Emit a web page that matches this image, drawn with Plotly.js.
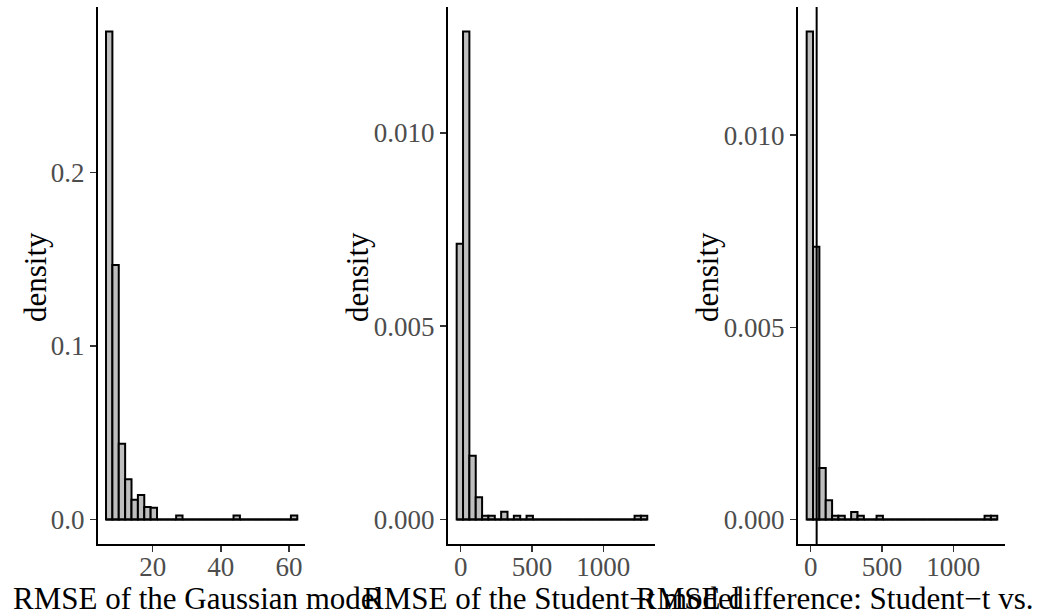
<!DOCTYPE html>
<html>
<head>
<meta charset="utf-8">
<script src="https://cdn.plot.ly/plotly-3.0.1.min.js"></script>
<style>html,body{margin:0;padding:0;background:#fff;}#chart{width:1042px;height:615px;}</style>
</head>
<body>
<div id="chart"></div>
<script>
// ---- Data ----
// Panel 1: RMSE of the Gaussian model (30 bins)
var gaussBinStart = 6.31;
var gaussBinWidth = 1.871;
var gaussDensity = [0.2811, 0.1466, 0.0436, 0.0232, 0.0114, 0.0141, 0.0072, 0.0068,
  0, 0, 0, 0.0023, 0, 0, 0, 0, 0, 0, 0, 0, 0.0023, 0, 0, 0, 0, 0, 0, 0, 0, 0.0023];

// Panel 2: RMSE of the Student-t model (30 bins)
var studBinStart = -28;
var studBinWidth = 44.53;
var studDensity = [0.00713, 0.01262, 0.00165, 0.00058, 0.0001, 0.0001, 0, 0.0002, 0, 0.0001,
  0, 0.0001, 0, 0, 0, 0, 0, 0, 0, 0, 0, 0, 0, 0, 0, 0, 0, 0, 0.0001, 0.0001];

// Panel 3: RMSE difference: Student-t vs. Gaussian (30 bins)
var diffBinStart = -28;
var diffBinWidth = 44.53;
var diffDensity = [0.0127, 0.0071, 0.00134, 0.0005, 0.0001, 0.0001, 0, 0.0002, 0.0001, 0,
  0, 0.0001, 0, 0, 0, 0, 0, 0, 0, 0, 0, 0, 0, 0, 0, 0, 0, 0, 0.0001, 0.0001];
var diffVline = 42;

var xTitles = ["RMSE of the Gaussian model", "RMSE of the Student\u2212t model", "RMSE difference: Student\u2212t vs. Gaussian"];
var yTitle = "density";

var gaussTicks = [20, 40, 60];
var studTicks = [0, 500, 1000];
var yTicks1 = [0, 0.1, 0.2], yTickText1 = ["0.0", "0.1", "0.2"];
var yTicks2 = [0, 0.005, 0.010], yTickText2 = ["0.000", "0.005", "0.010"];

// ---- Build ----
var W = 1042, H = 615;
var FONT = "Liberation Serif, Times New Roman, serif";
function px(x) { return x / W; }
function py(y) { return 1 - y / H; }

function histTraces(start, width, dens, xa, ya) {
  var centers = [], widths = [];
  for (var i = 0; i < dens.length; i++) { centers.push(start + width * (i + 0.5)); widths.push(width); }
  var end = start + width * dens.length;
  return [
    { type: "scatter", mode: "lines", x: [start, end], y: [0, 0], xaxis: xa, yaxis: ya,
      line: { color: "black", width: 2 }, hoverinfo: "skip", showlegend: false },
    { type: "bar", x: centers, y: dens, width: widths, xaxis: xa, yaxis: ya,
      marker: { color: "#BEBEBE", line: { color: "black", width: 2 } }, showlegend: false }
  ];
}

var traces = [];
traces = traces.concat(histTraces(gaussBinStart, gaussBinWidth, gaussDensity, "x", "y"));
traces = traces.concat(histTraces(studBinStart, studBinWidth, studDensity, "x2", "y2"));
traces = traces.concat(histTraces(diffBinStart, diffBinWidth, diffDensity, "x3", "y3"));

function maxOf(a) { return Math.max.apply(null, a); }
var yr1 = [-0.05 * maxOf(gaussDensity), 1.05 * maxOf(gaussDensity)];
var yr2 = [-0.05 * maxOf(studDensity), 1.05 * maxOf(studDensity)];
var yr3 = [-0.05 * maxOf(diffDensity), 1.05 * maxOf(diffDensity)];

var yDom = [py(544), py(7)];
var tickFont = { family: FONT, size: 27, color: "#4D4D4D" };

function xAxis(dom, range, ticks, anchor) {
  return { domain: dom, range: range, anchor: anchor, tickmode: "array", tickvals: ticks,
    ticks: "outside", ticklen: 6, tickwidth: 1.5, tickcolor: "#333333",
    showline: true, linecolor: "black", linewidth: 2, showgrid: false, zeroline: false,
    tickfont: tickFont, ticklabelstandoff: -8, fixedrange: true };
}
function yAxis(range, ticks, text, anchor) {
  return { domain: yDom, range: range, anchor: anchor, tickmode: "array", tickvals: ticks, ticktext: text,
    ticks: "outside", ticklen: 6, tickwidth: 1.5, tickcolor: "#333333",
    showline: true, linecolor: "black", linewidth: 2, showgrid: false, zeroline: false,
    tickfont: tickFont, fixedrange: true };
}

var titleFont = { family: FONT, size: 31, color: "black" };
var layout = {
  width: W, height: H,
  margin: { l: 0, r: 0, t: 0, b: 0 },
  paper_bgcolor: "white", plot_bgcolor: "white",
  showlegend: false,
  xaxis: xAxis([px(98), px(305)], [3.96, 64.7], gaussTicks, "y"),
  xaxis2: xAxis([px(448), px(655)], [-88.8, 1362], studTicks, "y2"),
  xaxis3: xAxis([px(798), px(1005)], [-88.8, 1362], studTicks, "y3"),
  yaxis: yAxis(yr1, yTicks1, yTickText1, "x"),
  yaxis2: yAxis(yr2, yTicks2, yTickText2, "x2"),
  yaxis3: yAxis(yr3, yTicks2, yTickText2, "x3"),
  shapes: [
    { type: "line", xref: "x3", yref: "y3 domain", x0: diffVline, x1: diffVline, y0: 0, y1: 1,
      line: { color: "black", width: 2 } }
  ],
  annotations: [
    { text: xTitles[0], xref: "paper", yref: "paper", x: px(198), y: py(598), xanchor: "center", yanchor: "middle", showarrow: false, font: titleFont },
    { text: xTitles[1], xref: "paper", yref: "paper", x: px(551.5), y: py(598), xanchor: "center", yanchor: "middle", showarrow: false, font: titleFont },
    { text: xTitles[2], xref: "paper", yref: "paper", x: px(895), y: py(598), xanchor: "center", yanchor: "middle", showarrow: false, font: titleFont },
    { text: yTitle, xref: "paper", yref: "paper", x: px(35), y: py(277), xanchor: "center", yanchor: "middle", textangle: -90, showarrow: false, font: titleFont },
    { text: yTitle, xref: "paper", yref: "paper", x: px(357), y: py(277), xanchor: "center", yanchor: "middle", textangle: -90, showarrow: false, font: titleFont },
    { text: yTitle, xref: "paper", yref: "paper", x: px(707), y: py(277), xanchor: "center", yanchor: "middle", textangle: -90, showarrow: false, font: titleFont }
  ]
};

Plotly.newPlot("chart", traces, layout, { displayModeBar: false, staticPlot: true });
</script>
</body>
</html>
